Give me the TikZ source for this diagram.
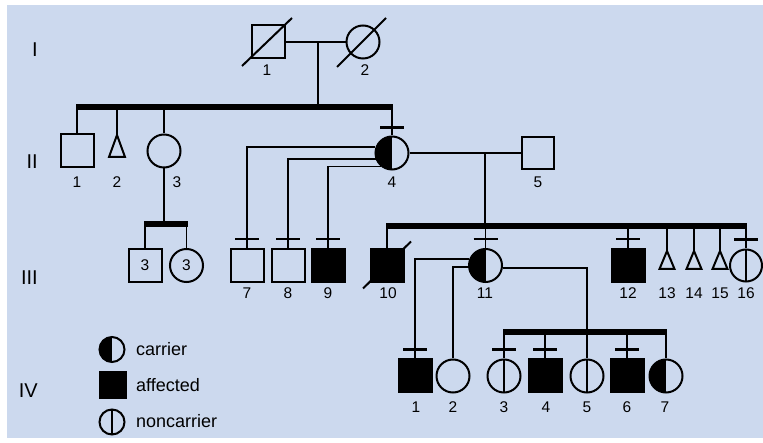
\documentclass[tikz,border=0pt]{standalone}
\usepackage{fontspec}
\setmainfont{Liberation Sans}
\definecolor{bg}{RGB}{204,217,238}
\begin{document}
\begin{tikzpicture}[x=1pt,y=-1pt,
  ind/.style={draw, line width=2pt, inner sep=0pt, minimum size=33pt},
  male/.style={ind, rectangle},
  female/.style={ind, circle},
  affected/.style={fill=black},
  carrier/.style={path picture={\fill[black] (path picture bounding box.south west) rectangle (path picture bounding box.north);}},
  noncarrier/.style={path picture={\draw[line width=1.6pt] (path picture bounding box.south) -- (path picture bounding box.north);}},
  lbl/.style={inner sep=0pt, font=\fontsize{15.5}{16}\selectfont},
  gen/.style={anchor=east, inner sep=0pt, font=\fontsize{20}{20}\selectfont},
  legtext/.style={anchor=west, inner sep=0pt, font=\fontsize{18}{18}\selectfont},
  conn/.style={line width=1.8pt},
  sib/.style={line width=5.5pt},
  tickmark/.style={line width=2.5pt},
  slash/.style={line width=2pt},
  tri/.style={line width=2pt, line join=miter},
]
\fill[white] (0,0) rectangle (763,443);
\fill[bg] (7,5) rectangle (763,438);
\useasboundingbox (0,0) rectangle (763,443);

% generation labels
\node[gen] (gI) at (38,50) {I};
\node[gen] (gII) at (38,162) {II};
\node[gen] (gIII) at (38,278) {III};
\node[gen] (gIV) at (38,391) {IV};

% ---------- generation I
\node[male] (i1) at (268,42) {};
\node[female] (i2) at (363,42) {};
\draw[slash] ([shift={(-26,24)}]i1.center) -- ([shift={(24,-24)}]i1.center);
\draw[slash] ([shift={(-26,25)}]i2.center) -- ([shift={(23,-24)}]i2.center);
\node[lbl] (li1) at (267,70) {1};
\node[lbl] (li2) at (365,70) {2};
\draw[conn] (i1.east) -- (i2.west);
\coordinate (mI) at (318,42);
\coordinate (sI) at (318,107);
\draw[conn] (mI) -- (sI);

% ---------- generation II
\node[male] (ii1) at (77,151) {};
\coordinate (ii2) at (117,135);
\draw[tri] (ii2) -- ++(-8,22) -- ++(16,0) -- cycle;
\node[female] (ii3) at (164,151) {};
\node[female, carrier] (ii4) at (392,153) {};
\node[male, minimum size=32pt] (ii5) at (538,153) {};
\node[lbl] (lii1) at (77,182) {1};
\node[lbl] (lii2) at (117,182) {2};
\node[lbl] (lii3) at (177,182) {3};
\node[lbl] (lii4) at (392,182) {4};
\node[lbl] (lii5) at (538,182) {5};

\draw[sib] ([xshift=-1pt]ii1.north |- sI) -- ([xshift=1pt]ii4.north |- sI);
\draw[conn] (ii1.north |- sI) -- (ii1.north);
\draw[conn] (ii2 |- sI) -- (ii2);
\draw[conn] (ii3.north |- sI) -- (ii3.north);
\draw[conn] (ii4.north |- sI) -- (ii4.north);
\draw[tickmark] ([shift={(-12,-8)}]ii4.north) -- ([shift={(12,-8)}]ii4.north);

\draw[conn] (ii4.east) -- (ii5.west);
\coordinate (mII) at (485,153);
\coordinate (sIII) at (485,226);
\draw[conn] (mII) -- (sIII);

% ---------- generation III
\coordinate (sT) at (164,224);
\node[male] (t1) at (145,265.5) {\fontsize{15.5}{16}\selectfont 3};
\node[female] (t2) at (186.5,265.5) {\fontsize{15.5}{16}\selectfont 3};
\draw[conn] (ii3.south) -- (sT);
\draw[sib] ([xshift=-1pt]t1.north |- sT) -- ([xshift=1pt]t2.north |- sT);
\draw[conn] (t1.north |- sT) -- (t1.north);
\draw[conn] (t2.north |- sT) -- (t2.north);

\node[male] (iii7) at (247,265.5) {};
\node[male] (iii8) at (288,265.5) {};
\node[male, affected] (iii9) at (328,265.5) {};
\draw[conn] (ii4.161) -| (iii7.north);
\draw[conn] (ii4.200) -| (iii8.north);
\draw[conn] (ii4.230) -| (iii9.north);
\foreach \n in {iii7,iii8,iii9}
  \draw[tickmark] ([shift={(-12,-9)}]\n.north) -- ([shift={(12,-9)}]\n.north);

\node[male, affected] (iii10) at (387,265.5) {};
\draw[slash] ([shift={(-24,23)}]iii10.center) -- ([shift={(24,-24)}]iii10.center);
\node[female, carrier] (iii11) at (485.5,265.5) {};
\node[male, affected] (iii12) at (628,265.5) {};
\coordinate (t13) at (667,251);
\coordinate (t14) at (694,251);
\coordinate (t15) at (720,251);
\foreach \t in {t13,t14,t15}
  \draw[tri] (\t) -- ++(-7.5,18) -- ++(15,0) -- cycle;
\node[female, noncarrier, minimum size=32pt] (iii16) at (746,265.5) {};

\draw[sib] ([xshift=-1pt]iii10.north |- sIII) -- ([xshift=1pt]iii16.north |- sIII);
\foreach \n in {iii10,iii11,iii12,iii16}
  \draw[conn] (\n.north |- sIII) -- (\n.north);
\foreach \t in {t13,t14,t15}
  \draw[conn] (\t |- sIII) -- (\t);
\foreach \n in {iii11,iii12,iii16}
  \draw[tickmark] ([shift={(-12,-9)}]\n.north) -- ([shift={(12,-9)}]\n.north);

\node[lbl] (liii7) at (247,293) {7};
\node[lbl] (liii8) at (288,293) {8};
\node[lbl] (liii9) at (328,293) {9};
\node[lbl] (liii10) at (388,293) {10};
\node[lbl] (liii11) at (485,293) {11};
\node[lbl] (liii12) at (628,293) {12};
\node[lbl] (liii13) at (667,293) {13};
\node[lbl] (liii14) at (694,293) {14};
\node[lbl] (liii15) at (720,293) {15};
\node[lbl] (liii16) at (746,293) {16};

% ---------- generation IV
\node[male, affected] (iv1) at (415,376) {};
\node[female] (iv2) at (453,376) {};
\node[female, noncarrier] (iv3) at (504,376) {};
\node[male, affected] (iv4) at (545,376) {};
\node[female, noncarrier] (iv5) at (587,376) {};
\node[male, affected] (iv6) at (627,376) {};
\node[female, carrier] (iv7) at (666,376) {};
\coordinate (sIV) at (587,332);

\draw[conn] (iii11.157) -| (iv1.north);
\draw[conn] (iii11.185) -| (iv2.north);
\draw[conn] (iii11.351) -| (iv5.north);
\draw[sib] ([xshift=-1pt]iv3.north |- sIV) -- ([xshift=1pt]iv7.north |- sIV);
\foreach \n in {iv3,iv4,iv6,iv7}
  \draw[conn] (\n.north |- sIV) -- (\n.north);
\foreach \n in {iv1,iv3,iv4,iv6}
  \draw[tickmark] ([shift={(-12,-9)}]\n.north) -- ([shift={(12,-9)}]\n.north);

\node[lbl] (liv1) at (416,407) {1};
\node[lbl] (liv2) at (453,407) {2};
\node[lbl] (liv3) at (504,407) {3};
\node[lbl] (liv4) at (546,407) {4};
\node[lbl] (liv5) at (587,407) {5};
\node[lbl] (liv6) at (627,407) {6};
\node[lbl] (liv7) at (665,407) {7};

% ---------- legend
\node[female, carrier, minimum size=25pt] (lc) at (112,349.5) {};
\node[male, affected, minimum size=26pt] (la) at (113,385) {};
\node[female, noncarrier, minimum size=25pt] (ln) at (112,422) {};
\node[legtext] (tc) at (136,349) {carrier};
\node[legtext] (ta) at (136,385) {affected};
\node[legtext] (tn) at (136,421) {noncarrier};
\end{tikzpicture}
\end{document}
